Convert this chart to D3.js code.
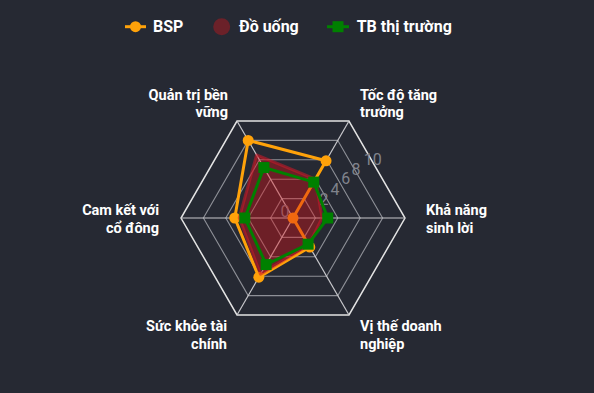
<!DOCTYPE html>
<html><head><meta charset="utf-8">
<script src="https://cdn.jsdelivr.net/npm/d3@7"></script>
<style>
html,body{margin:0;padding:0;background:#262933;}
svg{display:block;font-family:Roboto,"Noto Sans",sans-serif;}
</style></head>
<body><svg id="c" width="594" height="393"></svg>
<script>
const categories = [
  ["Tốc độ tăng", "trưởng"],
  ["Khả năng", "sinh lời"],
  ["Vị thế doanh", "nghiệp"],
  ["Sức khỏe tài", "chính"],
  ["Cam kết với", "cổ đông"],
  ["Quản trị bền", "vững"]
];
const seriesNames = ["BSP", "Đồ uống", "TB thị trường"];
const bsp = [5.9, 0, 3, 6.1, 5.2, 8];
const doUong = [4.0, 2.6, 2.8, 5.8, 4.8, 6.5];
const tbThiTruong = [3.7, 3.1, 2.7, 4.8, 4.3, 5.2];
const tickValues = [0, 2, 4, 6, 8, 10];
const tickLabels = ["0", "2", "4", "6", "8", "10"];

const svg = d3.select("#c");
const cx = 293, cy = 218, R = 112;
const r = d3.scaleLinear().domain([0, 10]).range([0, R]);
const n = categories.length;
const ang = d3.scaleLinear().domain([0, n]).range([-Math.PI / 3, -Math.PI / 3 + 2 * Math.PI]);
const pt = (i, v) => [cx + r(v) * Math.cos(ang(i)), cy + r(v) * Math.sin(ang(i))];
const idx = d3.range(n);

// grid rings
const g = svg.append("g");
tickValues.filter(v => v > 0).forEach(v => {
  g.append("polygon")
    .attr("points", idx.map(i => pt(i, v).join(",")).join(" "))
    .attr("fill", "none")
    .attr("stroke", v === 10 ? "#e4e4e4" : "#8e9097")
    .attr("stroke-width", v === 10 ? 1.5 : 1.1);
});
// spokes
idx.forEach(i => {
  const p = pt(i, 10);
  g.append("line").attr("x1", cx).attr("y1", cy).attr("x2", p[0]).attr("y2", p[1])
    .attr("stroke", "#c8c8cc").attr("stroke-width", 1.2);
});

// tick labels (placed along upper-right)
const tx = d3.scaleLinear().domain(tickValues).range([-8, 31, 42, 52.7, 63, 79.7]);
const ty = d3.scaleLinear().domain(tickValues).range([-7, -19, -29, -39.7, -49, -58.7]);
g.selectAll("text.tick").data(tickValues).join("text")
  .attr("class", "tick")
  .attr("x", v => cx + tx(v)).attr("y", v => cy + ty(v))
  .attr("text-anchor", "middle").attr("dominant-baseline", "central")
  .attr("fill", "#80838c").attr("font-size", 16)
  .text((v, i) => tickLabels[i]);

// axis labels
const labelG = svg.append("g").attr("fill", "#ffffff").attr("font-size", 14.5).attr("font-weight", 700);
idx.forEach(i => {
  const a = ang(i);
  const c = Math.cos(a), s = Math.sin(a);
  const p = pt(i, 10);
  let x, y0, anchor;
  const lh = 17.5;
  if (Math.abs(s) < 0.01) { // left/right
    anchor = c > 0 ? "start" : "end";
    x = p[0] + (c > 0 ? 21 : -22);
    y0 = p[1] - 3;
  } else if (s < 0) { // top
    anchor = c > 0 ? "start" : "end";
    x = p[0] + (c > 0 ? 11 : -9);
    y0 = p[1] - 21.5;
  } else { // bottom
    anchor = c > 0 ? "start" : "end";
    x = p[0] + (c > 0 ? 11 : -10);
    y0 = p[1] + 16.5;
  }
  const t = labelG.append("text").attr("text-anchor", anchor);
  categories[i].forEach((line, k) => {
    t.append("tspan").attr("x", x).attr("y", y0 + k * lh).text(line);
  });
});

const lineGen = d3.line().x(d => d[0]).y(d => d[1]).curve(d3.curveLinearClosed);
const orange = "#ffa20a", green = "#008000";

// BSP
const ptsB = bsp.map((v, i) => pt(i, v));
svg.append("path").attr("d", lineGen(ptsB)).attr("fill", "none")
  .attr("stroke", orange).attr("stroke-width", 3).attr("stroke-linejoin", "round");
svg.selectAll("circle.b").data(ptsB).join("circle").attr("class", "b")
  .attr("cx", d => d[0]).attr("cy", d => d[1]).attr("r", 5.5).attr("fill", orange);

// Đồ uống
const ptsD = doUong.map((v, i) => pt(i, v));
svg.append("path").attr("d", lineGen(ptsD))
  .attr("fill", "rgba(218,18,23,0.4)")
  .attr("stroke", "rgba(205,25,40,0.55)").attr("stroke-width", 3).attr("stroke-linejoin", "round");

// TB thị trường
const ptsT = tbThiTruong.map((v, i) => pt(i, v));
svg.append("path").attr("d", lineGen(ptsT)).attr("fill", "none")
  .attr("stroke", green).attr("stroke-width", 3).attr("stroke-linejoin", "round");
svg.selectAll("rect.t").data(ptsT).join("rect").attr("class", "t")
  .attr("x", d => d[0] - 5.5).attr("y", d => d[1] - 5.5).attr("width", 11).attr("height", 11)
  .attr("fill", green);

// legend
const lg = svg.append("g").attr("font-size", 16).attr("font-weight", 700).attr("fill", "#ffffff");
const ly = 26.7;
// BSP
lg.append("line").attr("x1", 125).attr("x2", 146).attr("y1", ly).attr("y2", ly).attr("stroke", orange).attr("stroke-width", 3);
lg.append("circle").attr("cx", 135.5).attr("cy", ly).attr("r", 5.5).attr("fill", orange);
lg.append("text").attr("x", 153).attr("y", ly).attr("dominant-baseline", "central").text(seriesNames[0]);
// Đồ uống
lg.append("circle").attr("cx", 221.7).attr("cy", ly).attr("r", 8.5).attr("fill", "#6b2129");
lg.append("text").attr("x", 239).attr("y", ly).attr("dominant-baseline", "central").text(seriesNames[1]);
// TB
lg.append("line").attr("x1", 327).attr("x2", 349).attr("y1", ly).attr("y2", ly).attr("stroke", green).attr("stroke-width", 3);
lg.append("rect").attr("x", 338 - 5.5).attr("y", ly - 5.5).attr("width", 11).attr("height", 11).attr("fill", green);
lg.append("text").attr("x", 356.7).attr("y", ly).attr("dominant-baseline", "central").text(seriesNames[2]);
</script>
</body></html>
